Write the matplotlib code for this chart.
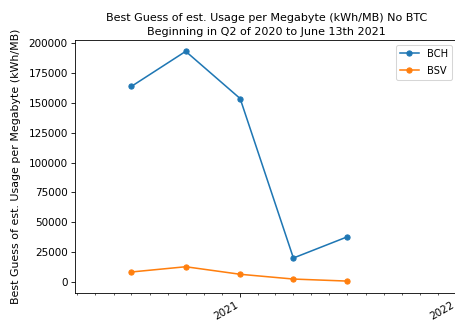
import numpy as np
import pandas as pd
import matplotlib
matplotlib.use('Agg')
import matplotlib.pyplot as plt
import matplotlib.dates as mdates

# quarterly snapshots
dates = pd.to_datetime(['2020-07-01', '2020-10-01', '2021-01-01', '2021-04-01', '2021-07-01'])
bch = [163600, 193000, 153500, 20100, 37800]
bsv = [8400, 12800, 6500, 2500, 800]

fig = plt.figure(figsize=(455/75., 324/75.), dpi=75)
ax = fig.add_axes([0.165, 0.097, 0.84, 0.78])

ax.plot(dates, bch, marker='o', markersize=5, linewidth=1.5, label='BCH')
ax.plot(dates, bsv, marker='o', markersize=5, linewidth=1.5, label='BSV')

ax.set_xlim(pd.Timestamp('2020-03-28'), pd.Timestamp('2022-01-03'))
ax.xaxis.set_major_locator(mdates.YearLocator())
ax.xaxis.set_major_formatter(mdates.DateFormatter('%Y'))
ax.xaxis.set_minor_locator(mdates.MonthLocator())
for lbl in ax.get_xticklabels():
    lbl.set_rotation(30)
    lbl.set_ha('right')

ax.set_title("Best Guess of est. Usage per Megabyte (kWh/MB) No BTC\nBeginning in Q2 of 2020 to June 13th 2021",
             fontsize=10.7, pad=5, linespacing=1.5)
ax.set_ylabel("Best Guess of est. Usage per Megabyte (kWh/MB)", fontsize=10.5, labelpad=7)
ax.legend(loc='upper right', fontsize=9.5, labelspacing=0.7)

fig.savefig('out.png', dpi=75)
